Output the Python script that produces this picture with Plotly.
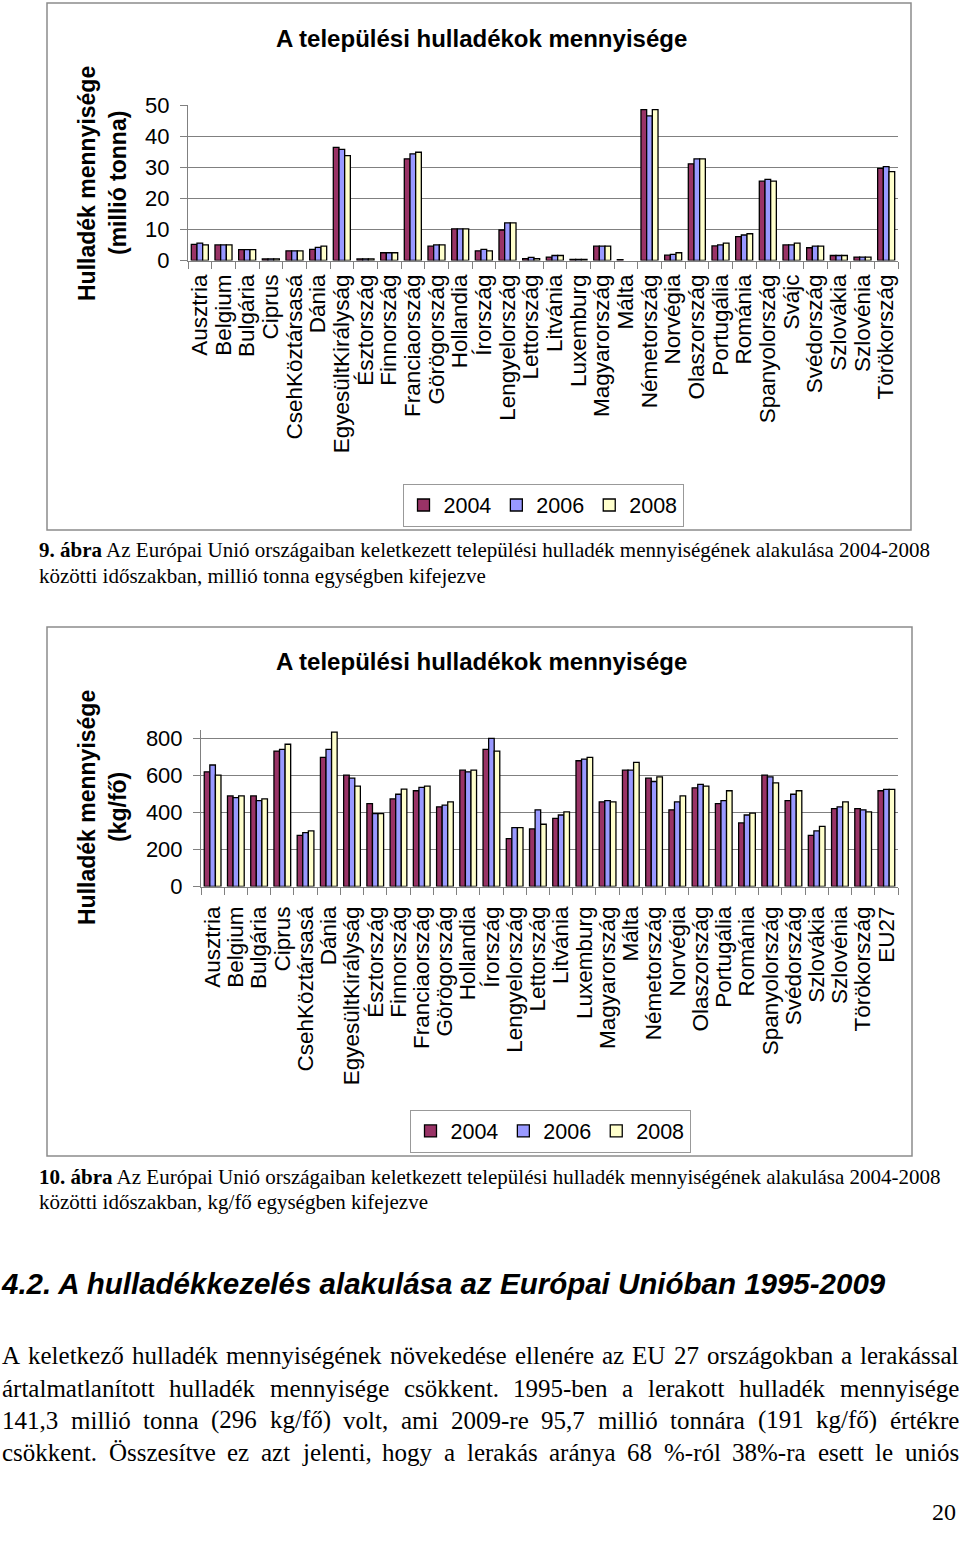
import plotly.graph_objects as go

W, H = 960, 1550

# ---------------- data ----------------
years = ["2004", "2006", "2008"]

countries_t = ["Ausztria", "Belgium", "Bulgária", "Ciprus", "CsehKöztársasá", "Dánia",
               "EgyesültKirályság", "Észtország", "Finnország", "Franciaország", "Görögország",
               "Hollandia", "Írország", "Lengyelország", "Lettország", "Litvánia", "Luxemburg",
               "Magyarország", "Málta", "Németország", "Norvégia", "Olaszország", "Portugália",
               "Románia", "Spanyolország", "Svájc", "Svédország", "Szlovákia", "Szlovénia",
               "Törökország"]
t2004 = [5.2, 5.0, 3.5, 0.5, 3.1, 3.6, 36.4, 0.5, 2.5, 32.7, 4.6, 10.2, 3.1, 9.8, 0.6, 1.1, 0.35,
         4.6, 0.3, 48.5, 1.7, 31.1, 4.7, 7.7, 25.5, 5.0, 4.1, 1.6, 1.1, 29.6]
t2006 = [5.6, 5.0, 3.5, 0.5, 3.1, 4.2, 35.7, 0.5, 2.5, 34.3, 5.0, 10.2, 3.6, 12.1, 1.0, 1.6, 0.35,
         4.6, None, 46.5, 2.0, 32.7, 5.0, 8.2, 26.1, 5.0, 4.6, 1.6, 1.1, 30.2]
t2008 = [5.0, 5.0, 3.5, 0.5, 3.1, 4.6, 33.7, 0.5, 2.5, 34.8, 5.0, 10.2, 3.1, 12.1, 0.6, 1.6, 0.35,
         4.6, None, 48.5, 2.5, 32.7, 5.6, 8.6, 25.5, 5.6, 4.6, 1.6, 1.1, 28.6]

countries_k = ["Ausztria", "Belgium", "Bulgária", "Ciprus", "CsehKöztársasá", "Dánia",
               "EgyesültKirályság", "Észtország", "Finnország", "Franciaország", "Görögország",
               "Hollandia", "Írország", "Lengyelország", "Lettország", "Litvánia", "Luxemburg",
               "Magyarország", "Málta", "Németország", "Norvégia", "Olaszország", "Portugália",
               "Románia", "Spanyolország", "Svédország", "Szlovákia", "Szlovénia", "Törökország",
               "EU27"]
k2004 = [619, 489, 489, 731, 276, 697, 601, 448, 473, 517, 430, 628, 740, 258, 311, 368, 679, 457,
         628, 585, 414, 533, 448, 343, 601, 464, 276, 421, 421, 517]
k2006 = [656, 480, 464, 740, 291, 740, 585, 394, 498, 535, 439, 619, 800, 318, 414, 386, 688, 464,
         628, 567, 457, 551, 464, 386, 592, 498, 300, 430, 414, 524]
k2008 = [601, 489, 473, 768, 300, 834, 542, 394, 526, 542, 457, 628, 731, 318, 336, 403, 697, 457,
         670, 592, 489, 542, 517, 396, 560, 517, 325, 457, 403, 524]

ticks_t = [0, 10, 20, 30, 40, 50]
ticks_k = [0, 200, 400, 600, 800]

chart_title = "A települési hulladékok mennyisége"
ytitle_line1 = "Hulladék mennyisége"
ytitle_t_line2 = "(millió tonna)"
ytitle_k_line2 = "(kg/fő)"

caption1 = ["<b>9. ábra</b> Az Európai Unió országaiban keletkezett települési hulladék mennyiségének alakulása 2004-2008",
            "közötti időszakban, millió tonna egységben kifejezve"]
caption2 = ["<b>10. ábra</b> Az Európai Unió országaiban keletkezett települési hulladék mennyiségének alakulása 2004-2008",
            "közötti időszakban, kg/fő egységben kifejezve"]
heading = "4.2. A hulladékkezelés alakulása az Európai Unióban 1995-2009"
paragraph = [
    "A keletkező hulladék mennyiségének növekedése ellenére az EU 27 országokban a lerakással",
    "ártalmatlanított hulladék mennyisége csökkent. 1995-ben a lerakott hulladék mennyisége",
    "141,3 millió tonna (296 kg/fő) volt, ami 2009-re 95,7 millió tonnára (191 kg/fő) értékre",
    "csökkent. Összesítve ez azt jelenti, hogy a lerakás aránya 68 %-ról 38%-ra esett le uniós",
]
page_no = "20"

colors = ["#993366", "#9999FF", "#FFFFCC"]

# ---------------- helpers ----------------
def px(x):
    return x / W


def py(y):
    return 1 - y / H


SANS = "Liberation Sans, Arial, sans-serif"
SERIF = "Liberation Serif, Times New Roman, serif"

fig = go.Figure()

for i, vals in enumerate([t2004, t2006, t2008]):
    fig.add_trace(go.Bar(x=countries_t, y=vals, name=years[i], xaxis="x", yaxis="y",
                         legend="legend",
                         marker=dict(color=colors[i], line=dict(color="black", width=1.3))))
for i, vals in enumerate([k2004, k2006, k2008]):
    fig.add_trace(go.Bar(x=countries_k, y=vals, name=years[i], xaxis="x2", yaxis="y2",
                         legend="legend2",
                         marker=dict(color=colors[i], line=dict(color="black", width=1.3))))

axis_common = dict(showline=True, linecolor="#808080", linewidth=1, ticks="outside",
                   tickcolor="#808080", ticklen=7, automargin=False)

xcommon = dict(axis_common, type="category", tickson="boundaries", tickangle=-90,
               tickmode="array",
               tickfont=dict(family=SANS, size=22.5, color="black"), showgrid=False)
ycommon = dict(axis_common, showgrid=True, gridcolor="#808080", gridwidth=1, zeroline=False,
               tickfont=dict(family=SANS, size=22, color="black"), ticklabelstandoff=6)

legend_common = dict(orientation="h", xanchor="center", yanchor="middle", bordercolor="#999999",
                     borderwidth=1, bgcolor="white", traceorder="normal",
                     font=dict(family=SANS, size=21.5, color="black"), itemwidth=30)

fig.update_layout(
    width=W, height=H, margin=dict(l=0, r=0, t=0, b=0),
    paper_bgcolor="white", plot_bgcolor="white",
    barmode="group", bargap=0.28, bargroupgap=0,
    xaxis=dict(xcommon, domain=[px(188), px(898)], anchor="y", ticklabelstandoff=4,
               tickvals=countries_t, ticktext=countries_t),
    yaxis=dict(ycommon, domain=[py(260.5), py(105)], anchor="x", range=[0, 50], tickvals=ticks_t),
    xaxis2=dict(xcommon, domain=[px(201), px(898)], anchor="y2", ticklabelstandoff=10,
                tickvals=countries_k, ticktext=countries_k),
    yaxis2=dict(ycommon, domain=[py(886.5), py(730)], anchor="x2", range=[0, 845], tickvals=ticks_k),
    legend=dict(legend_common, x=px(543), y=py(505)),
    legend2=dict(legend_common, x=px(550), y=py(1131)),
    showlegend=True,
)

# chart frames
fig.add_shape(type="rect", xref="paper", yref="paper", x0=px(47), x1=px(911), y0=py(530), y1=py(3),
              line=dict(color="#8c8c8c", width=1.5), layer="below")
fig.add_shape(type="rect", xref="paper", yref="paper", x0=px(47), x1=px(912), y0=py(1156), y1=py(627),
              line=dict(color="#8c8c8c", width=1.5), layer="below")


def ann(text, x, y, size, family=SANS, xanchor="center", yanchor="middle", angle=0, **kw):
    fig.add_annotation(text=text, x=px(x), y=py(y), xref="paper", yref="paper",
                       xanchor=xanchor, yanchor=yanchor, showarrow=False, textangle=angle,
                       borderpad=0, font=dict(family=family, size=size, color="black"), **kw)


# titles
ann("<b>" + chart_title + "</b>", 481, 38, 24)
ann("<b>" + chart_title + "</b>", 481, 661, 24)
# y-axis titles
ann("<b>" + ytitle_line1 + "</b>", 87, 184, 23, angle=-90)
ann("<b>" + ytitle_t_line2 + "</b>", 118, 183, 23, angle=-90)
ann("<b>" + ytitle_line1 + "</b>", 87, 808, 23, angle=-90)
ann("<b>" + ytitle_k_line2 + "</b>", 118, 807, 23, angle=-90)

# captions
ann(caption1[0], 38, 550, 21, family=SERIF, xanchor="left")
ann(caption1[1], 38, 576, 21, family=SERIF, xanchor="left")
ann(caption2[0], 38, 1177, 21, family=SERIF, xanchor="left")
ann(caption2[1], 38, 1202, 21, family=SERIF, xanchor="left")

# heading
ann("<b><i>" + heading + "</i></b>", 0, 1283, 29.5, xanchor="left")

# justified paragraph (Times / Liberation Serif metrics)
TW = {" ": 250, "%": 833, "(": 333, ")": 333, ",": 250, "-": 333, ".": 250, "/": 278,
      "A": 722, "E": 611, "Ö": 722, "U": 722, "a": 444, "á": 444, "b": 500, "c": 444, "d": 500,
      "e": 444, "é": 444, "f": 333, "g": 500, "h": 500, "i": 278, "í": 278, "j": 278, "k": 500,
      "l": 278, "m": 778, "n": 500, "o": 500, "ó": 500, "ö": 500, "ő": 500, "p": 500, "r": 333,
      "s": 389, "t": 278, "u": 500, "ü": 500, "v": 500, "y": 500, "z": 444, "x": 500, "w": 722}


def tw(s):
    return sum(TW.get(c, 500) for c in s) / 1000.0


def justify(line, y, size, x0=1, x1=958):
    words = line.split(" ")
    widths = [tw(w) * size for w in words]
    gap = (x1 - x0 - sum(widths)) / (len(words) - 1)
    x = x0
    for w, wd in zip(words, widths):
        ann(w, x, y, size, family=SERIF, xanchor="left")
        x += wd + gap


para_y = [1355, 1388, 1420, 1452]
for line, yy in zip(paragraph, para_y):
    justify(line, yy, 25)

ann(page_no, 957, 1512, 24, family=SERIF, xanchor="right")

fig.write_html("out.html", config={"displayModeBar": False},
               post_script="document.body.style.margin='0px';")
